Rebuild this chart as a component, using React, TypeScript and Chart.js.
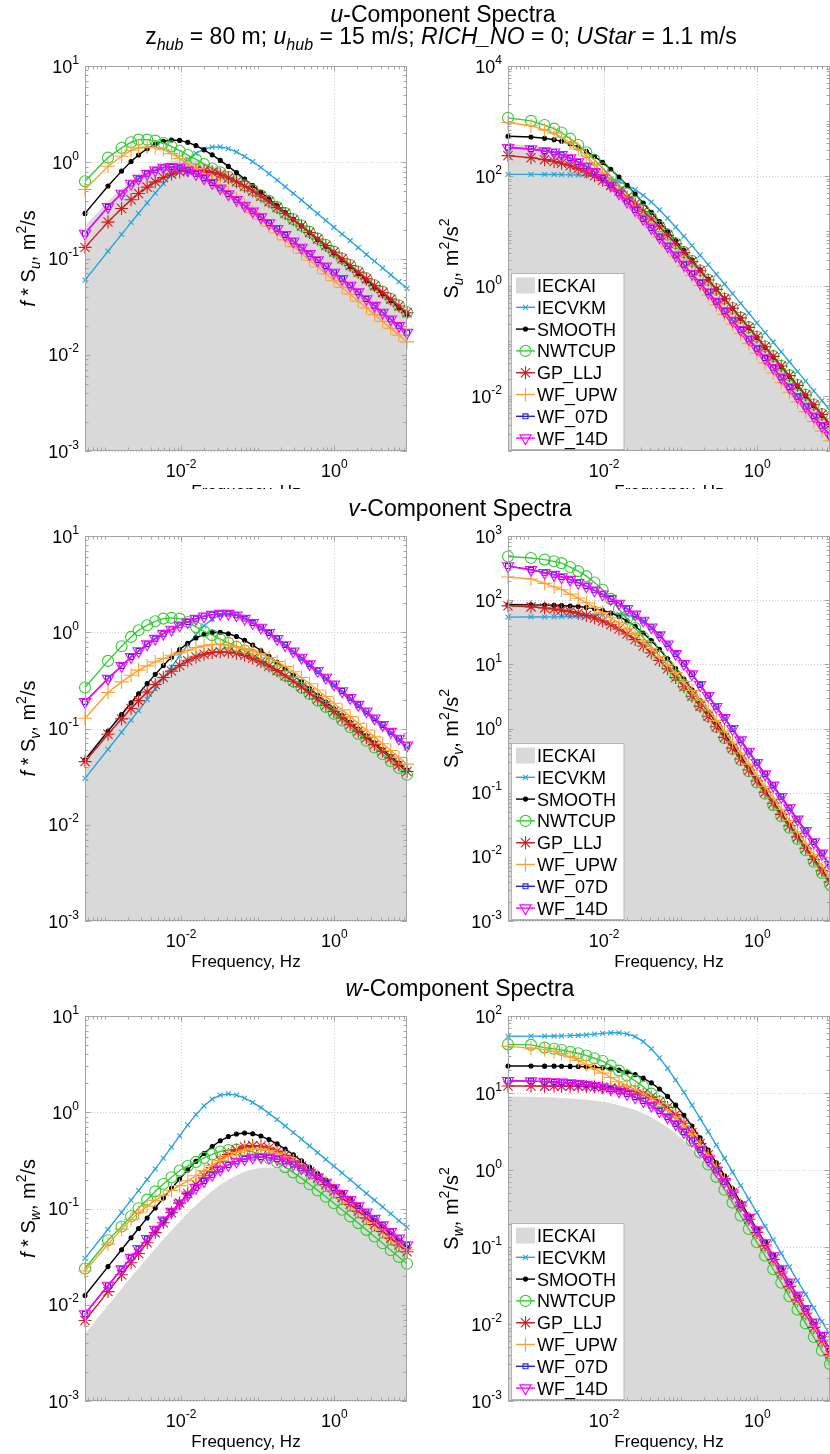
import React, { useEffect, useRef } from 'react';
import { Chart, registerables } from 'chart.js';

Chart.register(...registerables);

// ---------------- data (values are f*S) ----------------
const FREQ = [0.000556, 0.00111, 0.00167, 0.00222, 0.00278, 0.0036, 0.00459, 0.00586, 0.00748, 0.00955, 0.0122, 0.0156, 0.0199, 0.0254, 0.0324, 0.0413, 0.0527, 0.0673, 0.0859, 0.11, 0.14, 0.179, 0.228, 0.291, 0.372, 0.474, 0.605, 0.773, 0.986, 1.26, 1.61, 2.05, 2.62, 3.34, 4.27, 5.45, 6.95, 8.87];

const SERIES_NAMES = ['IECKAI', 'IECVKM', 'SMOOTH', 'NWTCUP', 'GP_LLJ', 'WF_UPW', 'WF_07D', 'WF_14D'];

const U_IECKAI = [0.219, 0.391, 0.527, 0.637, 0.724, 0.822, 0.909, 0.979, 1.03, 1.059, 1.062, 1.04, 0.995, 0.935, 0.863, 0.785, 0.706, 0.627, 0.553, 0.483, 0.42, 0.363, 0.313, 0.269, 0.231, 0.198, 0.169, 0.144, 0.123, 0.105, 0.0891, 0.0759, 0.0646, 0.055, 0.0467, 0.0397, 0.0338, 0.0287];
const U_IECVKM = [0.0596, 0.119, 0.178, 0.237, 0.294, 0.378, 0.478, 0.598, 0.741, 0.904, 1.074, 1.236, 1.368, 1.439, 1.442, 1.384, 1.279, 1.151, 1.014, 0.882, 0.76, 0.653, 0.557, 0.475, 0.405, 0.344, 0.292, 0.249, 0.211, 0.179, 0.153, 0.13, 0.11, 0.0938, 0.0796, 0.0676, 0.0574, 0.0489];
const U_SMOOTH = [0.294, 0.567, 0.809, 1.016, 1.188, 1.383, 1.542, 1.655, 1.705, 1.687, 1.609, 1.49, 1.346, 1.194, 1.045, 0.906, 0.781, 0.67, 0.572, 0.488, 0.416, 0.354, 0.301, 0.256, 0.218, 0.185, 0.157, 0.134, 0.114, 0.0966, 0.0822, 0.0698, 0.0593, 0.0504, 0.0429, 0.0364, 0.0309, 0.0263];
const U_NWTCUP = [0.635, 1.117, 1.409, 1.614, 1.718, 1.718, 1.679, 1.585, 1.462, 1.318, 1.189, 1.072, 0.955, 0.861, 0.785, 0.708, 0.638, 0.575, 0.513, 0.454, 0.398, 0.342, 0.296, 0.256, 0.22, 0.189, 0.161, 0.138, 0.118, 0.1, 0.0855, 0.0729, 0.0621, 0.0528, 0.045, 0.0382, 0.0325, 0.0276];
const U_GP_LLJ = [0.1305, 0.239, 0.331, 0.408, 0.473, 0.552, 0.626, 0.694, 0.753, 0.797, 0.823, 0.829, 0.816, 0.785, 0.741, 0.687, 0.627, 0.564, 0.503, 0.444, 0.388, 0.338, 0.293, 0.2526, 0.2173, 0.1864, 0.1596, 0.1365, 0.1165, 0.0993, 0.0846, 0.0721, 0.0614, 0.0522, 0.0444, 0.0378, 0.0321, 0.0273];
const U_WF_UPW = [0.521, 0.908, 1.153, 1.334, 1.409, 1.442, 1.419, 1.352, 1.23, 1.091, 0.968, 0.859, 0.75, 0.646, 0.556, 0.479, 0.412, 0.353, 0.3, 0.255, 0.217, 0.184, 0.156, 0.133, 0.113, 0.0959, 0.0817, 0.0693, 0.0589, 0.0501, 0.0426, 0.0361, 0.0307, 0.0261, 0.0222, 0.0188, 0.016, 0.0136];
const U_WF_07D = [0.182, 0.344, 0.473, 0.601, 0.676, 0.762, 0.826, 0.881, 0.895, 0.881, 0.826, 0.759, 0.684, 0.61, 0.537, 0.468, 0.407, 0.355, 0.309, 0.269, 0.234, 0.204, 0.176, 0.151, 0.13, 0.112, 0.0966, 0.0832, 0.0716, 0.0617, 0.0525, 0.0447, 0.038, 0.0324, 0.0275, 0.0234, 0.02, 0.017];
const U_WF_14D = [0.182, 0.344, 0.473, 0.601, 0.676, 0.762, 0.826, 0.881, 0.895, 0.881, 0.826, 0.759, 0.684, 0.61, 0.537, 0.468, 0.407, 0.355, 0.309, 0.269, 0.234, 0.204, 0.176, 0.151, 0.13, 0.112, 0.0966, 0.0832, 0.0716, 0.0617, 0.0525, 0.0447, 0.038, 0.0324, 0.0275, 0.0234, 0.02, 0.017];

const V_IECKAI = [0.0507, 0.0977, 0.1409, 0.1809, 0.218, 0.2665, 0.3185, 0.3766, 0.4365, 0.4969, 0.5562, 0.6061, 0.6443, 0.6721, 0.6803, 0.6727, 0.6532, 0.6182, 0.5771, 0.5273, 0.477, 0.4249, 0.3759, 0.3288, 0.2867, 0.2489, 0.215, 0.1852, 0.159, 0.1362, 0.1165, 0.0995, 0.0849, 0.0724, 0.0617, 0.0525, 0.0446, 0.0379];
const V_IECVKM = [0.0303, 0.0608, 0.0913, 0.122, 0.1535, 0.2, 0.258, 0.334, 0.435, 0.568, 0.739, 0.945, 1.167, 1.369, 1.504, 1.549, 1.508, 1.404, 1.267, 1.119, 0.974, 0.84, 0.72, 0.616, 0.525, 0.447, 0.3805, 0.3237, 0.2755, 0.2341, 0.1989, 0.1691, 0.1437, 0.1221, 0.1038, 0.0882, 0.0749, 0.0637];
const V_SMOOTH = [0.0471, 0.0938, 0.1398, 0.185, 0.2293, 0.2923, 0.3652, 0.4519, 0.5512, 0.6597, 0.77, 0.871, 0.95, 0.994, 0.999, 0.966, 0.904, 0.824, 0.736, 0.6465, 0.5627, 0.486, 0.4175, 0.357, 0.305, 0.26, 0.2214, 0.1887, 0.1603, 0.1365, 0.116, 0.0986, 0.0838, 0.0712, 0.0605, 0.0514, 0.0437, 0.0371];
const V_NWTCUP = [0.267, 0.504, 0.716, 0.895, 1.05, 1.183, 1.3, 1.387, 1.409, 1.387, 1.279, 1.135, 1.023, 0.933, 0.847, 0.776, 0.708, 0.646, 0.582, 0.521, 0.462, 0.407, 0.355, 0.308, 0.265, 0.228, 0.195, 0.167, 0.142, 0.121, 0.103, 0.0879, 0.0746, 0.0635, 0.054, 0.0458, 0.0389, 0.0331];
const V_GP_LLJ = [0.0453, 0.0872, 0.1258, 0.1615, 0.1947, 0.239, 0.2869, 0.3393, 0.395, 0.4517, 0.5056, 0.5535, 0.5911, 0.6166, 0.627, 0.6229, 0.6048, 0.5751, 0.5368, 0.4928, 0.4458, 0.399, 0.353, 0.3102, 0.2705, 0.2348, 0.2028, 0.1747, 0.15, 0.1285, 0.1099, 0.0939, 0.0801, 0.0683, 0.0582, 0.0495, 0.0421, 0.0358];
const V_WF_UPW = [0.128, 0.237, 0.305, 0.357, 0.404, 0.447, 0.492, 0.533, 0.577, 0.61, 0.65, 0.693, 0.721, 0.745, 0.75, 0.733, 0.705, 0.676, 0.638, 0.596, 0.547, 0.495, 0.442, 0.389, 0.339, 0.292, 0.251, 0.215, 0.183, 0.156, 0.133, 0.113, 0.0964, 0.0818, 0.0695, 0.059, 0.0501, 0.0426];
const V_WF_07D = [0.189, 0.33, 0.447, 0.555, 0.638, 0.752, 0.859, 0.968, 1.067, 1.183, 1.279, 1.387, 1.466, 1.524, 1.563, 1.563, 1.503, 1.387, 1.25, 1.122, 0.984, 0.855, 0.738, 0.635, 0.546, 0.467, 0.398, 0.339, 0.288, 0.245, 0.209, 0.177, 0.151, 0.128, 0.109, 0.0927, 0.0787, 0.0668];
const V_WF_14D = [0.189, 0.33, 0.447, 0.555, 0.638, 0.752, 0.859, 0.968, 1.067, 1.183, 1.279, 1.387, 1.466, 1.524, 1.563, 1.563, 1.503, 1.387, 1.25, 1.122, 0.984, 0.855, 0.738, 0.635, 0.546, 0.467, 0.398, 0.339, 0.288, 0.245, 0.209, 0.177, 0.151, 0.128, 0.109, 0.0927, 0.0787, 0.0668];

const W_IECKAI = [0.00499, 0.00989, 0.01468, 0.01938, 0.02399, 0.0306, 0.03837, 0.04791, 0.05945, 0.07331, 0.08956, 0.1083, 0.1294, 0.1523, 0.1762, 0.2, 0.2221, 0.2411, 0.2555, 0.2641, 0.2665, 0.2624, 0.2529, 0.2388, 0.2216, 0.2023, 0.1823, 0.1624, 0.1434, 0.1257, 0.1094, 0.0948, 0.0818, 0.0703, 0.0603, 0.0516, 0.0441, 0.0377];
const W_IECVKM = [0.0303, 0.0608, 0.0913, 0.122, 0.1535, 0.2, 0.258, 0.334, 0.435, 0.568, 0.739, 0.945, 1.167, 1.369, 1.504, 1.549, 1.508, 1.404, 1.267, 1.119, 0.974, 0.84, 0.72, 0.616, 0.525, 0.447, 0.3805, 0.3237, 0.2755, 0.2341, 0.1989, 0.1691, 0.1437, 0.1221, 0.1038, 0.0882, 0.0749, 0.0637];
const W_SMOOTH = [0.01247, 0.0249, 0.0373, 0.0496, 0.0619, 0.0798, 0.1013, 0.1282, 0.1618, 0.2026, 0.2519, 0.309, 0.3733, 0.4405, 0.505, 0.5593, 0.5952, 0.6079, 0.597, 0.5658, 0.5209, 0.4688, 0.4147, 0.362, 0.3133, 0.2697, 0.2311, 0.1975, 0.1685, 0.1435, 0.1222, 0.1042, 0.0885, 0.0752, 0.064, 0.0543, 0.0462, 0.0392];
const W_NWTCUP = [0.0238, 0.0468, 0.0649, 0.0832, 0.1005, 0.1236, 0.1507, 0.1795, 0.2113, 0.2483, 0.2767, 0.3048, 0.3357, 0.3648, 0.3908, 0.4055, 0.4093, 0.4027, 0.3873, 0.3631, 0.335, 0.302, 0.2692, 0.2371, 0.2065, 0.1786, 0.1542, 0.1324, 0.1135, 0.097, 0.0828, 0.0705, 0.06, 0.0511, 0.0435, 0.0369, 0.0314, 0.0267];
const W_GP_LLJ = [0.00686, 0.0137, 0.0205, 0.0273, 0.0341, 0.0441, 0.0561, 0.0712, 0.0902, 0.1138, 0.1429, 0.1779, 0.2191, 0.2657, 0.3152, 0.3641, 0.4064, 0.4368, 0.4502, 0.4461, 0.4259, 0.3946, 0.3566, 0.3165, 0.277, 0.2403, 0.207, 0.1776, 0.1518, 0.1296, 0.1104, 0.094, 0.08, 0.0682, 0.0579, 0.0492, 0.0418, 0.0355];
const W_WF_UPW = [0.0224, 0.0425, 0.061, 0.0767, 0.0902, 0.1059, 0.1216, 0.1374, 0.1542, 0.173, 0.1941, 0.2188, 0.2477, 0.2805, 0.3162, 0.3508, 0.3819, 0.4055, 0.4169, 0.415, 0.4009, 0.3758, 0.3451, 0.3119, 0.278, 0.2443, 0.2128, 0.1841, 0.1581, 0.1355, 0.1159, 0.0989, 0.0841, 0.0716, 0.0608, 0.0516, 0.044, 0.0373];
const W_WF_07D = [0.00802, 0.01585, 0.02347, 0.0309, 0.03816, 0.04849, 0.06058, 0.07521, 0.09277, 0.1134, 0.1373, 0.1642, 0.1934, 0.2242, 0.2547, 0.2834, 0.3083, 0.3272, 0.339, 0.3425, 0.3381, 0.3262, 0.3085, 0.2867, 0.2619, 0.2363, 0.2107, 0.1861, 0.1632, 0.1421, 0.1231, 0.1063, 0.0915, 0.0785, 0.0672, 0.0574, 0.0491, 0.0418];
const W_WF_14D = [0.00802, 0.01585, 0.02347, 0.0309, 0.03816, 0.04849, 0.06058, 0.07521, 0.09277, 0.1134, 0.1373, 0.1642, 0.1934, 0.2242, 0.2547, 0.2834, 0.3083, 0.3272, 0.339, 0.3425, 0.3381, 0.3262, 0.3085, 0.2867, 0.2619, 0.2363, 0.2107, 0.1861, 0.1632, 0.1421, 0.1231, 0.1063, 0.0915, 0.0785, 0.0672, 0.0574, 0.0491, 0.0418];

const X_TICKS = [1e-2, 1e0];
const LEFT_Y_TICKS = [1e-3, 1e-2, 1e-1, 1e0, 1e1];
const U_RIGHT_Y_TICKS = [1e-2, 1e0, 1e2, 1e4];
const V_RIGHT_Y_TICKS = [1e-3, 1e-2, 1e-1, 1e0, 1e1, 1e2, 1e3];
const W_RIGHT_Y_TICKS = [1e-3, 1e-2, 1e-1, 1e0, 1e1, 1e2];

// ---------------- styles ----------------
const FONT = '"Liberation Sans", Arial, Helvetica, sans-serif';
const FRAME = '#a4a4a4';
const GRID = '#cdcdcd';

type Style = { color: string; fill?: boolean; point?: string; r?: number; rot?: number; bg?: string };
const SERIES_STYLE: Style[] = [
  { color: '#d9d9d9', fill: true },
  { color: '#2ba3dc', point: 'crossRot', r: 3.5 },
  { color: '#000000', point: 'circle', r: 2, bg: '#000000' },
  { color: '#33cc33', point: 'circle', r: 5.5 },
  { color: '#cc1f1f', point: 'star', r: 6.5 },
  { color: '#ffa033', point: 'cross', r: 7 },
  { color: '#2424d0', point: 'rect', r: 3.5 },
  { color: '#ff00ff', point: 'triangle', r: 6.5, rot: 180 },
];

type Part = { t: string; s?: number; it?: boolean; dy?: number };

function fnt(size: number, italic?: boolean) {
  return `${italic ? 'italic ' : ''}${size}px ${FONT}`;
}

function drawRich(ctx: CanvasRenderingContext2D, parts: Part[], x: number, y: number, align: string, base: number) {
  let w = 0;
  const widths = parts.map((p) => {
    ctx.font = fnt(p.s ?? base, p.it);
    const m = ctx.measureText(p.t).width;
    w += m;
    return m;
  });
  let cx = align === 'center' ? x - w / 2 : align === 'right' ? x - w : x;
  ctx.textAlign = 'left';
  ctx.textBaseline = 'alphabetic';
  parts.forEach((p, i) => {
    ctx.font = fnt(p.s ?? base, p.it);
    ctx.fillText(p.t, cx, y + (p.dy ?? 0));
    cx += widths[i];
  });
}

function drawMarker(ctx: CanvasRenderingContext2D, st: Style, x: number, y: number) {
  const r = st.r || 3;
  const d = r * Math.SQRT1_2;
  ctx.save();
  ctx.setLineDash([]);
  ctx.strokeStyle = st.color;
  ctx.fillStyle = st.bg || 'rgba(0,0,0,0)';
  ctx.lineWidth = 1.1;
  ctx.beginPath();
  switch (st.point) {
    case 'crossRot':
      ctx.moveTo(x - d, y - d); ctx.lineTo(x + d, y + d); ctx.moveTo(x - d, y + d); ctx.lineTo(x + d, y - d);
      break;
    case 'cross':
      ctx.moveTo(x - r, y); ctx.lineTo(x + r, y); ctx.moveTo(x, y - r); ctx.lineTo(x, y + r);
      break;
    case 'star':
      ctx.moveTo(x - r, y); ctx.lineTo(x + r, y); ctx.moveTo(x, y - r); ctx.lineTo(x, y + r);
      ctx.moveTo(x - d, y - d); ctx.lineTo(x + d, y + d); ctx.moveTo(x - d, y + d); ctx.lineTo(x + d, y - d);
      break;
    case 'circle':
      ctx.arc(x, y, r, 0, Math.PI * 2);
      ctx.fill();
      break;
    case 'rect':
      ctx.rect(x - d, y - d, 2 * d, 2 * d);
      break;
    case 'triangle': {
      const s = r * Math.sin(Math.PI / 3);
      ctx.moveTo(x, y + r); ctx.lineTo(x - s, y - r / 2); ctx.lineTo(x + s, y - r / 2); ctx.closePath();
      break;
    }
  }
  ctx.stroke();
  ctx.restore();
}

type PlotSpec = {
  comp: string;
  right: boolean;
  values: number[][];
  yMin: number;
  yMax: number;
  yTicks: number[];
};

function expLabel(t: number): Part[] {
  const e = Math.round(Math.log10(t));
  return [{ t: '10' }, { t: String(e), s: 12, dy: -9 }];
}

function makeAxesPlugin(spec: PlotSpec) {
  return {
    id: 'matlabAxes',
    beforeDatasetsDraw(chart: any) {
      const { ctx, chartArea: a } = chart;
      const xs = chart.scales.x;
      const ys = chart.scales.y;
      ctx.save();
      ctx.strokeStyle = GRID;
      ctx.lineWidth = 1;
      ctx.setLineDash([1, 2]);
      ctx.beginPath();
      for (const t of X_TICKS) {
        const p = Math.round(xs.getPixelForValue(t)) + 0.5;
        ctx.moveTo(p, a.top); ctx.lineTo(p, a.bottom);
      }
      for (const t of spec.yTicks) {
        const p = Math.round(ys.getPixelForValue(t)) + 0.5;
        ctx.moveTo(a.left, p); ctx.lineTo(a.right, p);
      }
      ctx.stroke();
      ctx.restore();
    },
    afterDatasetsDraw(chart: any) {
      const { ctx, chartArea: a } = chart;
      const xs = chart.scales.x;
      const ys = chart.scales.y;
      const L = Math.round(a.left) + 0.5;
      const R = Math.round(a.right) - 0.5;
      const T = Math.round(a.top) + 0.5;
      const B = Math.round(a.bottom) - 0.5;
      ctx.save();
      ctx.setLineDash([]);
      ctx.strokeStyle = FRAME;
      ctx.lineWidth = 1;
      ctx.strokeRect(L, T, R - L, B - T);
      // ticks
      ctx.beginPath();
      const xMin = xs.min, xMax = xs.max, yMin = ys.min, yMax = ys.max;
      for (let dcd = -4; dcd <= 1; dcd++) {
        for (let m = 1; m <= 9; m++) {
          const v = m * Math.pow(10, dcd);
          if (v < xMin || v > xMax) continue;
          const major = X_TICKS.some((t) => Math.abs(t - v) / t < 1e-6);
          const len = major ? 5 : 3;
          const p = Math.round(xs.getPixelForValue(v)) + 0.5;
          ctx.moveTo(p, B); ctx.lineTo(p, B - len);
          ctx.moveTo(p, T); ctx.lineTo(p, T + len);
        }
      }
      for (let dcd = -4; dcd <= 4; dcd++) {
        for (let m = 1; m <= 9; m++) {
          const v = m * Math.pow(10, dcd);
          if (v < yMin * 0.999 || v > yMax * 1.001) continue;
          const major = spec.yTicks.some((t) => Math.abs(t - v) / t < 1e-6);
          const len = major ? 5 : 3;
          const p = Math.round(ys.getPixelForValue(v)) + 0.5;
          ctx.moveTo(L, p); ctx.lineTo(L + len, p);
          ctx.moveTo(R, p); ctx.lineTo(R - len, p);
        }
      }
      ctx.stroke();

      // tick labels
      ctx.fillStyle = '#000';
      for (const t of X_TICKS) {
        drawRich(ctx, expLabel(t), xs.getPixelForValue(t), a.bottom + 26, 'center', 18);
      }
      for (const t of spec.yTicks) {
        drawRich(ctx, expLabel(t), a.left - 6, ys.getPixelForValue(t) + 6.5, 'right', 18);
      }

      // x label
      drawRich(ctx, [{ t: 'Frequency, Hz' }], (a.left + a.right) / 2, a.bottom + 45.5, 'center', 17);

      // y label
      const c = spec.comp;
      const parts: Part[] = spec.right
        ? [{ t: 'S' }, { t: c, it: true, s: 14, dy: 5 }, { t: ', m' }, { t: '2', s: 14, dy: -9 }, { t: '/s' }, { t: '2', s: 14, dy: -9 }]
        : [{ t: 'f', it: true }, { t: ' * S' }, { t: c, it: true, s: 14, dy: 5 }, { t: ', m' }, { t: '2', s: 14, dy: -9 }, { t: '/s' }];
      ctx.save();
      ctx.translate(a.left - 50.5, (a.top + a.bottom) / 2);
      ctx.rotate(-Math.PI / 2);
      drawRich(ctx, parts, 0, 0, 'center', 20);
      ctx.restore();

      // legend
      if (spec.right) {
        const bx = Math.round(a.left) + 3.5;
        const bw = 112.5;
        const bh = 176;
        const by = Math.round(a.bottom) - 178 + 0.5;
        ctx.fillStyle = '#ffffff';
        ctx.fillRect(bx, by, bw, bh);
        ctx.strokeStyle = '#b4b4b4';
        ctx.strokeRect(bx, by, bw, bh);
        SERIES_NAMES.forEach((name, k) => {
          const st = SERIES_STYLE[k];
          const cy = by + 12 + 21.8 * k;
          if (st.fill) {
            ctx.fillStyle = st.color;
            ctx.fillRect(bx + 4.5, cy - 8, 19, 16);
          } else {
            ctx.strokeStyle = st.color;
            ctx.lineWidth = 1.4;
            ctx.beginPath();
            ctx.moveTo(bx + 4.5, cy); ctx.lineTo(bx + 23.5, cy);
            ctx.stroke();
            drawMarker(ctx, st, bx + 14, cy);
          }
          ctx.fillStyle = '#000';
          drawRich(ctx, [{ t: name }], bx + 25.5, cy + 6.5, 'left', 18);
        });
      }
      ctx.restore();
    },
  };
}

function buildConfig(spec: PlotSpec, pad: any) {
  const datasets = SERIES_STYLE.map((st, k) => {
    const vals = spec.values[k];
    const data = FREQ.map((f, i) => ({ x: f, y: spec.right ? vals[i] / f : vals[i] }));
    if (st.fill) {
      return {
        label: SERIES_NAMES[k], data, fill: 'start', backgroundColor: st.color,
        borderColor: 'rgba(0,0,0,0)', borderWidth: 0, pointRadius: 0, pointHoverRadius: 0, order: 20,
      };
    }
    return {
      label: SERIES_NAMES[k], data, fill: false, borderColor: st.color, borderWidth: 1.4,
      backgroundColor: st.color, pointStyle: st.point, pointRadius: st.r, pointHoverRadius: st.r,
      pointRotation: st.rot || 0, pointBorderColor: st.color, pointBackgroundColor: st.bg || 'rgba(0,0,0,0)',
      pointBorderWidth: 1.1, tension: 0, clip: false, order: 10 - k,
    };
  });
  return {
    type: 'line',
    data: { datasets },
    options: {
      animation: false,
      responsive: false,
      maintainAspectRatio: false,
      devicePixelRatio: 1,
      events: [],
      layout: { padding: pad, autoPadding: false },
      scales: {
        x: { type: 'logarithmic', min: FREQ[0], max: FREQ[FREQ.length - 1], display: false },
        y: { type: 'logarithmic', min: spec.yMin, max: spec.yMax, display: false },
      },
      plugins: { legend: { display: false }, tooltip: { enabled: false } },
    },
    plugins: [makeAxesPlugin(spec)],
  };
}

function Plot({ spec, left, width, height, pad }: { spec: PlotSpec; left: number; width: number; height: number; pad: any }) {
  const ref = useRef<HTMLCanvasElement>(null);
  useEffect(() => {
    const chart = new Chart(ref.current as HTMLCanvasElement, buildConfig(spec, pad) as any);
    return () => chart.destroy();
  }, []);
  return (
    <canvas
      ref={ref}
      width={width}
      height={height}
      style={{ position: 'absolute', left, top: 0, width, height, display: 'block' }}
    />
  );
}

const Sub = ({ children }: { children: any }) => (
  <span style={{ fontSize: 16, position: 'relative', top: 6, fontStyle: 'italic' }}>{children}</span>
);

const ROWS = [
  {
    comp: 'u', top: 0, h: 489, padTop: 66, padBottom: 38,
    values: [U_IECKAI, U_IECVKM, U_SMOOTH, U_NWTCUP, U_GP_LLJ, U_WF_UPW, U_WF_07D, U_WF_14D],
    rightRange: [1e-3, 1e4], rightTicks: U_RIGHT_Y_TICKS,
  },
  {
    comp: 'v', top: 489, h: 486, padTop: 47, padBottom: 54,
    values: [V_IECKAI, V_IECVKM, V_SMOOTH, V_NWTCUP, V_GP_LLJ, V_WF_UPW, V_WF_07D, V_WF_14D],
    rightRange: [1e-3, 1e3], rightTicks: V_RIGHT_Y_TICKS,
  },
  {
    comp: 'w', top: 975, h: 479, padTop: 41, padBottom: 53,
    values: [W_IECKAI, W_IECVKM, W_SMOOTH, W_NWTCUP, W_GP_LLJ, W_WF_UPW, W_WF_07D, W_WF_14D],
    rightRange: [1e-3, 1e2], rightTicks: W_RIGHT_Y_TICKS,
  },
];

function Title({ comp }: { comp: string }) {
  const base: any = { position: 'absolute', textAlign: 'center', fontSize: 23, lineHeight: '23px', whiteSpace: 'nowrap', color: '#000' };
  if (comp === 'u') {
    return (
      <>
        <div style={{ ...base, left: 443 - 300, width: 600, top: 2.5 }}>
          <i>u</i>-Component Spectra
        </div>
        <div style={{ ...base, left: 441 - 380, width: 760, top: 24.5 }}>
          z<Sub>hub</Sub> = 80 m; <i>u</i><Sub>hub</Sub> = 15 m/s; <i>RICH_NO</i> = 0; <i>UStar</i> = 1.1 m/s
        </div>
      </>
    );
  }
  return (
    <div style={{ ...base, left: 460 - 300, width: 600, top: comp === 'v' ? 7.5 : 1.5 }}>
      <i>{comp}</i>-Component Spectra
    </div>
  );
}

export default function App() {
  return (
    <div
      style={{
        position: 'absolute', left: 0, top: 0, width: 830, height: 1454, overflow: 'hidden',
        background: '#ffffff', fontFamily: FONT,
      }}
    >
      {ROWS.map((row) => {
        const leftSpec: PlotSpec = { comp: row.comp, right: false, values: row.values, yMin: 1e-3, yMax: 1e1, yTicks: LEFT_Y_TICKS };
        const rightSpec: PlotSpec = { comp: row.comp, right: true, values: row.values, yMin: row.rightRange[0], yMax: row.rightRange[1], yTicks: row.rightTicks };
        return (
          <div
            key={row.comp}
            style={{ position: 'absolute', left: 0, top: row.top, width: 830, height: row.h, overflow: 'hidden', background: '#ffffff' }}
          >
            <Plot spec={leftSpec} left={0} width={420} height={row.h} pad={{ left: 85, right: 13, top: row.padTop, bottom: row.padBottom }} />
            <Plot spec={rightSpec} left={420} width={420} height={row.h} pad={{ left: 88, right: 10, top: row.padTop, bottom: row.padBottom }} />
            <Title comp={row.comp} />
          </div>
        );
      })}
    </div>
  );
}
